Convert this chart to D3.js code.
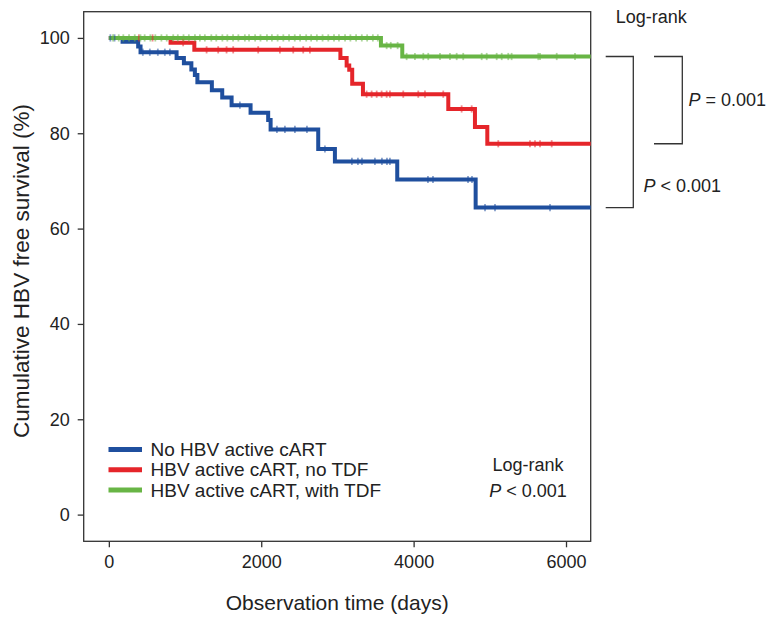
<!DOCTYPE html>
<html>
<head>
<meta charset="utf-8">
<script src="https://cdn.jsdelivr.net/npm/d3@7"></script>
<style>
  body { margin: 0; background: #fff; }
  svg { display: block; font-family: "Liberation Sans", Arial, sans-serif; }
  .axis-line { stroke: #333; stroke-width: 1.3; fill: none; }
  .tick-label { font-size: 18px; fill: #222; }
  .title { font-size: 21px; fill: #222; }
  .note { font-size: 18px; fill: #222; }
</style>
</head>
<body>
<svg id="chart" width="767" height="617"></svg>
<script>
'use strict';

// Kaplan-Meier steps: [days, survival %]
var blueSteps = [[0, 100], [180, 99.2], [385, 98.2], [416, 97.0], [889, 95.8], [985, 94.7],
  [1083, 93.4], [1129, 92.2], [1162, 90.7], [1352, 89.0], [1488, 87.5], [1611, 85.9],
  [1860, 84.3], [2091, 82.8], [2123, 80.8], [2748, 76.7], [2967, 74.1], [3785, 70.3], [4814, 64.4]];
var redSteps = [[0, 100], [810, 99.0], [1122, 97.5], [3039, 95.8], [3121, 94.2], [3155, 93.3],
  [3194, 90.4], [3335, 88.2], [4455, 85.1], [4805, 81.3], [4967, 77.8]];
var greenSteps = [[0, 100], [3571, 98.4], [3851, 96.1]];

// censored observations (days)
var blueCensor = [20, 75, 446, 538, 643, 735, 801, 1720, 2206, 2311, 2442, 2600, 2836,
  3190, 3269, 3322, 3492, 3584, 3650, 3689, 4188, 4254, 4714, 4766, 4937, 5068, 5790];
var redCensor = [394, 574, 975, 1283, 1435, 1545, 1632, 1960, 2245, 2420, 2551, 2639,
  3383, 3449, 3515, 3580, 3646, 3689, 3864, 4061, 4149, 4389, 4630, 4762, 5111, 5527, 5593, 5659, 5812];
var greenCensor = [55, 130, 190, 265, 340, 415, 470, 545, 610, 690, 760, 845, 905, 980, 1050,
  1130, 1195, 1260, 1345, 1410, 1490, 1555, 1630, 1700, 1785, 1840, 1920, 1990, 2075, 2140,
  2215, 2290, 2365, 2440, 2510, 2590, 2655, 2730, 2805, 2880, 2955, 3020, 3100, 3170, 3245,
  3320, 3390, 3465, 3530, 3646, 3700, 3790, 3908, 4017, 4127, 4192, 4346, 4477, 4565, 4651,
  4893, 4959, 5090, 5156, 5242, 5286, 5636, 5659, 5878, 6118];

var seriesNames = ['No HBV active cART', 'HBV active cART, no TDF', 'HBV active cART, with TDF'];
var seriesColors = ['#1f4f9e', '#e5252a', '#68b545'];
var xTicks = [0, 2000, 4000, 6000];
var yTicks = [0, 20, 40, 60, 80, 100];

var svg = d3.select('#chart');
var plot = { left: 83.7, right: 590.7, top: 11.7, bottom: 541.3 };
var xMax = 6324;

var xScale = d3.scaleLinear().domain([-330, xMax]).range([plot.left, plot.right]);
var yScale = d3.scaleLinear().domain([-5.6, 105.5]).range([plot.bottom, plot.top]);

// frame
svg.append('rect')
  .attr('class', 'axis-line')
  .attr('x', plot.left).attr('y', plot.top)
  .attr('width', plot.right - plot.left)
  .attr('height', plot.bottom - plot.top);

// axes
var xAxis = d3.axisBottom(xScale).tickValues(xTicks).tickSize(6).tickPadding(8).tickFormat(d3.format('d'));
var yAxis = d3.axisLeft(yScale).tickValues(yTicks).tickSize(6).tickPadding(8);

function styleAxis(g) {
  g.select('.domain').remove();
  g.selectAll('.tick line').attr('stroke', '#333').attr('stroke-width', 1.3);
  g.selectAll('.tick text').attr('class', 'tick-label').attr('font-family', null).attr('font-size', null);
}

svg.append('g').attr('transform', 'translate(0,' + plot.bottom + ')').call(xAxis).call(styleAxis);
svg.append('g').attr('transform', 'translate(' + plot.left + ',0)').call(yAxis).call(styleAxis);

svg.append('text').attr('class', 'title')
  .attr('x', (plot.left + plot.right) / 2).attr('y', 610)
  .attr('text-anchor', 'middle')
  .text('Observation time (days)');

svg.append('text').attr('class', 'title')
  .attr('transform', 'translate(29,271) rotate(-90)')
  .attr('text-anchor', 'middle')
  .style('font-size', '22.5px')
  .text('Cumulative HBV free survival (%)');

// curves
function valueAt(steps, t) {
  var v = steps[0][1];
  steps.forEach(function(s) { if (s[0] <= t) v = s[1]; });
  return v;
}

var line = d3.line()
  .x(function(d) { return xScale(d[0]); })
  .y(function(d) { return yScale(d[1]); })
  .curve(d3.curveStepAfter);

var allSteps = [blueSteps, redSteps, greenSteps];
var allCensor = [blueCensor, redCensor, greenCensor];

allSteps.forEach(function(steps, i) {
  var pts = steps.concat([[xMax, steps[steps.length - 1][1]]]);
  svg.append('path')
    .attr('d', line(pts))
    .attr('fill', 'none')
    .attr('stroke', seriesColors[i])
    .attr('stroke-width', 4);
});

allCensor.forEach(function(times, i) {
  svg.append('g').selectAll('line')
    .data(times)
    .enter().append('line')
    .attr('x1', function(d) { return xScale(d); })
    .attr('x2', function(d) { return xScale(d); })
    .attr('y1', function(d) { return yScale(valueAt(allSteps[i], d)) - 3.6; })
    .attr('y2', function(d) { return yScale(valueAt(allSteps[i], d)) + 3.6; })
    .attr('stroke', seriesColors[i])
    .attr('stroke-opacity', 0.55)
    .attr('stroke-width', 1.8);
});

// legend
var legend = svg.append('g');
seriesNames.forEach(function(name, i) {
  var y = 449.5 + i * 20.3;
  legend.append('line')
    .attr('x1', 108.5).attr('x2', 142).attr('y1', y).attr('y2', y)
    .attr('stroke', seriesColors[i]).attr('stroke-width', 5);
  legend.append('text').attr('class', 'note')
    .attr('x', 150.5).attr('y', y + 6.5)
    .style('font-size', '19px')
    .text(name);
});

function pText(x, y, anchor, rest) {
  var t = svg.append('text').attr('class', 'note').attr('x', x).attr('y', y).attr('text-anchor', anchor);
  t.append('tspan').style('font-style', 'italic').text('P');
  t.append('tspan').text(rest);
  return t;
}

svg.append('text').attr('class', 'note')
  .attr('x', 528).attr('y', 470.5).attr('text-anchor', 'middle')
  .text('Log-rank');
pText(528, 497, 'middle', ' < 0.001');

// log-rank brackets on the right
var yGreen = yScale(greenSteps[greenSteps.length - 1][1]);
var yRed = yScale(redSteps[redSteps.length - 1][1]);
var yBlue = yScale(blueSteps[blueSteps.length - 1][1]);

function bracket(x1, x2, ya, yb) {
  svg.append('path')
    .attr('class', 'axis-line')
    .attr('d', 'M' + x1 + ',' + ya + 'H' + x2 + 'V' + yb + 'H' + x1);
}
bracket(605.7, 633.3, yGreen, yBlue);
bracket(654, 682.3, yGreen, yRed);

svg.append('text').attr('class', 'note')
  .attr('x', 615.7).attr('y', 23)
  .text('Log-rank');
pText(688.5, 106, 'start', ' = 0.001');
pText(643.5, 192, 'start', ' < 0.001');
</script>
</body>
</html>
